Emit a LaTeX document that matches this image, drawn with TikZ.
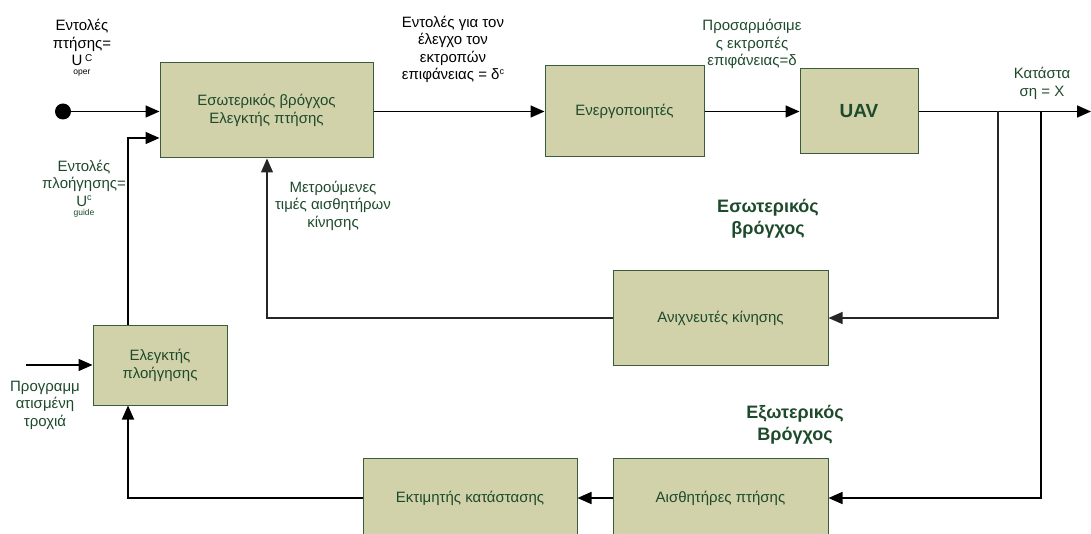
\documentclass[tikz,border=0pt]{standalone}
\usepackage{fontspec}
\setmainfont{Liberation Sans}
\usetikzlibrary{arrows.meta,positioning}
\definecolor{boxfill}{RGB}{209,210,170}
\definecolor{boxline}{RGB}{56,92,60}
\definecolor{darkgreen}{RGB}{30,74,44}
\tikzset{
  blockbox/.style={draw=boxline, fill=boxfill, line width=1pt, text=darkgreen,
    align=center, font=\fontsize{15}{18}\selectfont, inner sep=0pt},
  flow/.style={line width=1.6pt, -{Triangle[length=14pt,width=12pt]}},
  thinflow/.style={line width=1.2pt, draw=black!85, -{Triangle[length=14pt,width=12pt]}},
  blacklbl/.style={align=center, text=black, font=\fontsize{15}{17.5}\selectfont, inner sep=0pt},
  greenlbl/.style={align=center, text=darkgreen, font=\fontsize{15}{17.5}\selectfont, inner sep=0pt},
  looplbl/.style={align=center, text=darkgreen, font=\bfseries\fontsize{18}{22}\selectfont, inner sep=0pt},
}
\begin{document}
\begin{tikzpicture}[x=1pt,y=-1pt]
\useasboundingbox (0,0) rectangle (1091,534);
\begin{scope}
\clip (0,0) rectangle (1091,534);

% blocks
\node[blockbox, minimum width=213pt, minimum height=95pt] (inner) at (266.5,110.5)
  {Εσωτερικός βρόγχος\\Ελεγκτής πτήσης};
\node[blockbox, minimum width=159pt, minimum height=91pt] (act) at (624.5,111.5) {Ενεργοποιητές};
\node[blockbox, minimum width=118pt, minimum height=85pt, font=\bfseries\fontsize{19}{22}\selectfont] (uav) at (859,111.5) {UAV};
\node[blockbox, minimum width=215pt, minimum height=94pt] (motion) at (720.5,318) {Ανιχνευτές κίνησης};
\node[blockbox, minimum width=134pt, minimum height=80pt] (nav) at (160,365) {Ελεγκτής\\πλοήγησης};
\node[blockbox, minimum width=214pt, minimum height=80pt] (est) at (470,498) {Εκτιμητής κατάστασης};
\node[blockbox, minimum width=215pt, minimum height=80pt] (sens) at (720.5,498) {Αισθητήρες πτήσης};

% input dot and free ends
\node[circle, fill=black, minimum size=16pt, inner sep=0pt] (dot) at (63,111.5) {};
\coordinate (out) at (1091,111.5);
\coordinate (tapin) at (998,111.5);
\coordinate (tapout) at (1041,111.5);
\coordinate (traj) at (26,365);

% forward path
\draw[flow] (dot) -- (inner.west |- dot);
\draw[flow] (inner.east |- act) -- (act.west);
\draw[flow] (act) -- (uav);
\draw[flow] (uav.east) -- (out);

% inner loop
\draw[thinflow] (tapin) |- (motion.east);
\draw[thinflow] (motion.west) -| ([xshift=0.5pt]inner.south);

% outer loop
\draw[flow] (tapout) |- (sens.east);
\draw[flow] (sens.west) -- (est.east);
\draw[flow] (est.west) -| ([xshift=-32pt]nav.south);
\draw[flow] ([xshift=-32pt]nav.north) |- ([yshift=-27.5pt]inner.west);
\draw[flow] (traj) -- (nav.west);

% labels
\node[blacklbl] (lblflight) at (82,42.5) {Εντολές\\πτήσης=\\U\,\raisebox{0.5ex}{\fontsize{10}{10}\selectfont C}};
\node[blacklbl, font=\fontsize{8.5}{9}\selectfont] (lbloper) at (82,73) {oper};
\node[blacklbl] (lblsurf) at (453,49.5) {Εντολές για τον\\έλεγχο τον\\εκτροπών\\επιφάνειας = δ\raisebox{0.7ex}{\fontsize{9}{9}\selectfont c}};
\node[greenlbl] (lbladapt) at (752,44) {Προσαρμόσιμε\\ς εκτροπές\\επιφάνειας=δ};
\node[greenlbl] (lblstate) at (1042,83.5) {Κατάστα\\ση = X};
\node[greenlbl] (lblnav) at (84,183) {Εντολές\\πλοήγησης=\\U\raisebox{0.7ex}{\fontsize{9}{9}\selectfont c}};
\node[greenlbl, font=\fontsize{8.5}{9}\selectfont] (lblguide) at (84,213) {guide};
\node[greenlbl] (lblmeas) at (333,205.5) {Μετρούμενες\\τιμές αισθητήρων\\κίνησης};
\node[greenlbl] (lbltraj) at (45,405) {Προγραμμ\\ατισμένη\\τροχιά};
\node[looplbl] (lblinner) at (768,219) {Εσωτερικός\\βρόγχος};
\node[looplbl] (lblouter) at (795,425) {Εξωτερικός\\Βρόγχος};
\end{scope}
\end{tikzpicture}
\end{document}
